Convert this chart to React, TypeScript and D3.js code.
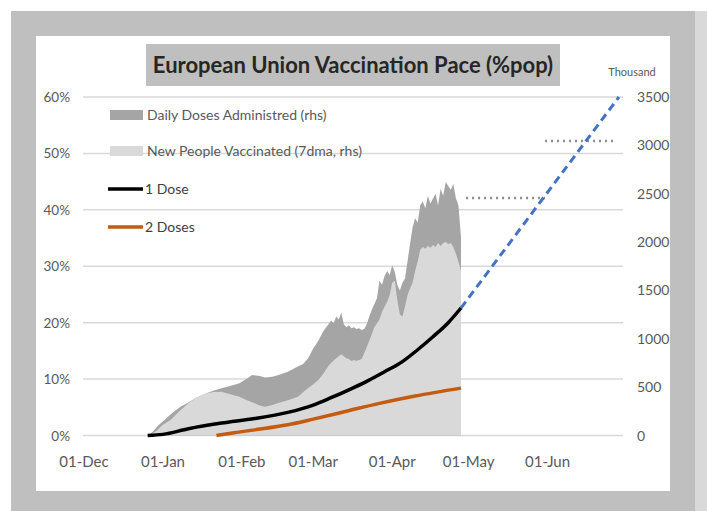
import React from "react";
import * as d3 from "d3";

const FONT = "Lato, 'Open Sans', sans-serif";

const leftTicks = [0, 10, 20, 30, 40, 50, 60];
const rightTicks = [0, 500, 1000, 1500, 2000, 2500, 3000, 3500];
const monthTicks = ["2020-12-01", "2021-01-01", "2021-02-01", "2021-03-01", "2021-04-01", "2021-05-01", "2021-06-01"];
const monthLabels = ["01-Dec", "01-Jan", "01-Feb", "01-Mar", "01-Apr", "01-May", "01-Jun"];

const dailyDoses: [string, number][] = [
  ["2020-12-26", 0], ["2020-12-28", 40], ["2020-12-30", 100], ["2021-01-02", 170], ["2021-01-05", 240],
  ["2021-01-08", 300], ["2021-01-11", 340], ["2021-01-14", 390], ["2021-01-18", 436], ["2021-01-21", 465],
  ["2021-01-24", 488], ["2021-01-27", 510], ["2021-01-31", 540], ["2021-02-03", 590], ["2021-02-05", 626],
  ["2021-02-08", 615], ["2021-02-10", 600], ["2021-02-13", 608], ["2021-02-16", 630], ["2021-02-19", 660],
  ["2021-02-22", 700], ["2021-02-25", 740], ["2021-02-27", 800], ["2021-03-01", 900], ["2021-03-03", 980],
  ["2021-03-05", 1080], ["2021-03-07", 1150], ["2021-03-08", 1190], ["2021-03-09", 1160], ["2021-03-10", 1230],
  ["2021-03-11", 1200], ["2021-03-12", 1270], ["2021-03-13", 1150], ["2021-03-14", 1120], ["2021-03-15", 1140],
  ["2021-03-16", 1110], ["2021-03-17", 1120], ["2021-03-18", 1100], ["2021-03-19", 1110], ["2021-03-20", 1090],
  ["2021-03-21", 1100], ["2021-03-22", 1150], ["2021-03-23", 1230], ["2021-03-24", 1300], ["2021-03-25", 1360],
  ["2021-03-26", 1420], ["2021-03-27", 1600], ["2021-03-28", 1560], ["2021-03-29", 1650], ["2021-03-30", 1700],
  ["2021-03-31", 1660], ["2021-04-01", 1760], ["2021-04-02", 1690], ["2021-04-03", 1560], ["2021-04-04", 1500],
  ["2021-04-05", 1580], ["2021-04-06", 1620], ["2021-04-07", 1800], ["2021-04-08", 1980], ["2021-04-09", 2150],
  ["2021-04-10", 2250], ["2021-04-11", 2200], ["2021-04-12", 2380], ["2021-04-13", 2420], ["2021-04-14", 2350],
  ["2021-04-15", 2480], ["2021-04-16", 2400], ["2021-04-17", 2450], ["2021-04-18", 2500], ["2021-04-19", 2380],
  ["2021-04-20", 2550], ["2021-04-21", 2480], ["2021-04-22", 2620], ["2021-04-23", 2580], ["2021-04-24", 2540],
  ["2021-04-25", 2600], ["2021-04-26", 2450], ["2021-04-27", 2380], ["2021-04-28", 2050],
];

const newPeople: [string, number][] = [
  ["2020-12-26", 0], ["2020-12-29", 40], ["2021-01-01", 110], ["2021-01-04", 160], ["2021-01-07", 240],
  ["2021-01-11", 333], ["2021-01-14", 390], ["2021-01-18", 436], ["2021-01-21", 450], ["2021-01-24", 453],
  ["2021-01-27", 430], ["2021-01-31", 400], ["2021-02-03", 365], ["2021-02-06", 333], ["2021-02-08", 310],
  ["2021-02-10", 298], ["2021-02-13", 315], ["2021-02-15", 333], ["2021-02-19", 365], ["2021-02-23", 400],
  ["2021-02-26", 470], ["2021-03-01", 530], ["2021-03-03", 574], ["2021-03-05", 640], ["2021-03-07", 720],
  ["2021-03-08", 750], ["2021-03-10", 800], ["2021-03-12", 840], ["2021-03-13", 820], ["2021-03-14", 800],
  ["2021-03-15", 790], ["2021-03-16", 770], ["2021-03-17", 780], ["2021-03-18", 770], ["2021-03-19", 780],
  ["2021-03-20", 790], ["2021-03-21", 850], ["2021-03-22", 915], ["2021-03-23", 980], ["2021-03-24", 1050],
  ["2021-03-25", 1120], ["2021-03-26", 1160], ["2021-03-27", 1200], ["2021-03-28", 1280], ["2021-03-29", 1330],
  ["2021-03-30", 1380], ["2021-03-31", 1450], ["2021-04-01", 1580], ["2021-04-02", 1600], ["2021-04-03", 1400],
  ["2021-04-04", 1250], ["2021-04-05", 1230], ["2021-04-06", 1330], ["2021-04-07", 1450], ["2021-04-08", 1520],
  ["2021-04-09", 1580], ["2021-04-10", 1700], ["2021-04-11", 1800], ["2021-04-12", 1920], ["2021-04-13", 1950],
  ["2021-04-14", 1930], ["2021-04-15", 1960], ["2021-04-16", 1940], ["2021-04-17", 1970], ["2021-04-18", 1950],
  ["2021-04-19", 1990], ["2021-04-20", 1960], ["2021-04-21", 1990], ["2021-04-22", 2000], ["2021-04-23", 1980],
  ["2021-04-24", 1990], ["2021-04-25", 1950], ["2021-04-26", 1880], ["2021-04-27", 1800], ["2021-04-28", 1700],
];

const oneDose: [string, number][] = [
  ["2020-12-26", 0], ["2021-01-01", 0.2], ["2021-01-11", 1.2], ["2021-01-24", 2.2], ["2021-02-06", 3.0],
  ["2021-02-19", 4.1], ["2021-03-01", 5.4], ["2021-03-08", 6.7], ["2021-03-15", 8.1],
  ["2021-03-22", 9.6], ["2021-03-29", 11.3], ["2021-04-05", 13.1], ["2021-04-11", 15.2], ["2021-04-17", 17.5],
  ["2021-04-23", 20.0], ["2021-04-28", 22.6],
];

const twoDoses: [string, number][] = [
  ["2021-01-22", 0], ["2021-01-29", 0.5], ["2021-02-06", 1.0], ["2021-02-19", 1.9], ["2021-03-01", 2.9],
  ["2021-03-14", 4.3], ["2021-03-27", 5.7], ["2021-04-10", 7.0], ["2021-04-28", 8.4],
];

const projection: [string, number][] = [["2021-04-28", 22.6], ["2021-06-29", 60]];

const targets: [string, string, number][] = [
  ["2021-04-30", "2021-05-31", 42.1],
  ["2021-05-31", "2021-06-28", 52.2],
];

const parse = (s: string) => new Date(s + "T00:00:00");

export default function App() {
  const x = d3.scaleTime().domain([parse("2020-12-01"), parse("2021-07-01")]).range([84, 624]);
  const yL = d3.scaleLinear().domain([0, 60]).range([435.5, 97]);
  const yR = d3.scaleLinear().domain([0, 3500]).range([435.5, 97]);

  const areaR = d3
    .area<[string, number]>()
    .x((d) => x(parse(d[0])))
    .y0(yR(0))
    .y1((d) => yR(d[1]));
  const areaClosed = (data: [string, number][]) => {
    const last = data[data.length - 1];
    return areaR([...data, [last[0], 0]]) || "";
  };
  const lineL = d3
    .line<[string, number]>()
    .x((d) => x(parse(d[0])))
    .y((d) => yL(d[1]))
    .curve(d3.curveMonotoneX);
  const straight = d3
    .line<[string, number]>()
    .x((d) => x(parse(d[0])))
    .y((d) => yL(d[1]));

  const txt = "#595959";

  return (
    <svg width={707} height={511} style={{ position: "fixed", left: 0, top: 0 }} fontFamily={FONT}>
      <rect x={0} y={0} width={707} height={511} fill="#ffffff" />
      <rect x={11} y={11} width={684} height={500} fill="#bfbfbf" />
      <rect x={695} y={11} width={12} height={500} fill="#d9d9d9" />
      <rect x={36} y={36} width={634} height={455} fill="#ffffff" />

      {/* title */}
      <rect x={146} y={44} width={414} height={42} fill="#bfbfbf" />
      <text x={353} y={73} textAnchor="middle" fontSize={22} fontWeight="bold" fill="#262626">
        European Union Vaccination Pace (%pop)
      </text>
      <text x={632} y={76} textAnchor="middle" fontSize={11} fill={txt}>
        Thousand
      </text>

      {/* gridlines */}
      {leftTicks.map((t) => (
        <line key={t} x1={83} x2={623} y1={yL(t)} y2={yL(t)} stroke="#d9d9d9" strokeWidth={1.5} />
      ))}

      {/* areas */}
      <path d={areaClosed(dailyDoses)} fill="#a5a5a5" />
      <path d={areaClosed(newPeople)} fill="#d9d9d9" />

      {/* targets */}
      {targets.map((t, i) => (
        <line
          key={i}
          x1={x(parse(t[0]))}
          x2={x(parse(t[1]))}
          y1={yL(t[2])}
          y2={yL(t[2])}
          stroke="#8c8c8c"
          strokeWidth={2.5}
          strokeDasharray="2,4"
        />
      ))}

      {/* lines */}
      <path d={straight(projection) || ""} fill="none" stroke="#4472c4" strokeWidth={3} strokeDasharray="8,5" />
      <path d={lineL(twoDoses) || ""} fill="none" stroke="#c55a11" strokeWidth={3.5} />
      <path d={lineL(oneDose) || ""} fill="none" stroke="#000000" strokeWidth={3.5} />

      {/* left axis labels */}
      {leftTicks.map((t) => (
        <text key={t} x={70} y={yL(t) + 5} textAnchor="end" fontSize={13.5} fill={txt}>
          {t}%
        </text>
      ))}
      {/* right axis labels */}
      {rightTicks.map((t) => (
        <text key={t} x={637} y={yR(t) + 5} textAnchor="start" fontSize={14} fill={txt}>
          {t}
        </text>
      ))}
      {/* x labels */}
      {monthTicks.map((m, i) => (
        <text key={m} x={x(parse(m))} y={467} textAnchor="middle" fontSize={15} fill={txt}>
          {monthLabels[i]}
        </text>
      ))}

      {/* legend */}
      <rect x={110} y={110} width={33} height={10} fill="#a5a5a5" />
      <text x={147} y={120} fontSize={14} fill={txt}>Daily Doses Administred (rhs)</text>
      <rect x={110} y={146} width={33} height={10} fill="#d9d9d9" />
      <text x={147} y={156} fontSize={14} fill={txt}>New People Vaccinated (7dma, rhs)</text>
      <line x1={108} x2={143} y1={189} y2={189} stroke="#000" strokeWidth={3.5} />
      <text x={145} y={194} fontSize={14} fill="#404040">1 Dose</text>
      <line x1={108} x2={143} y1={227} y2={227} stroke="#c55a11" strokeWidth={3.5} />
      <text x={145} y={232} fontSize={14} fill="#404040">2 Doses</text>
    </svg>
  );
}
